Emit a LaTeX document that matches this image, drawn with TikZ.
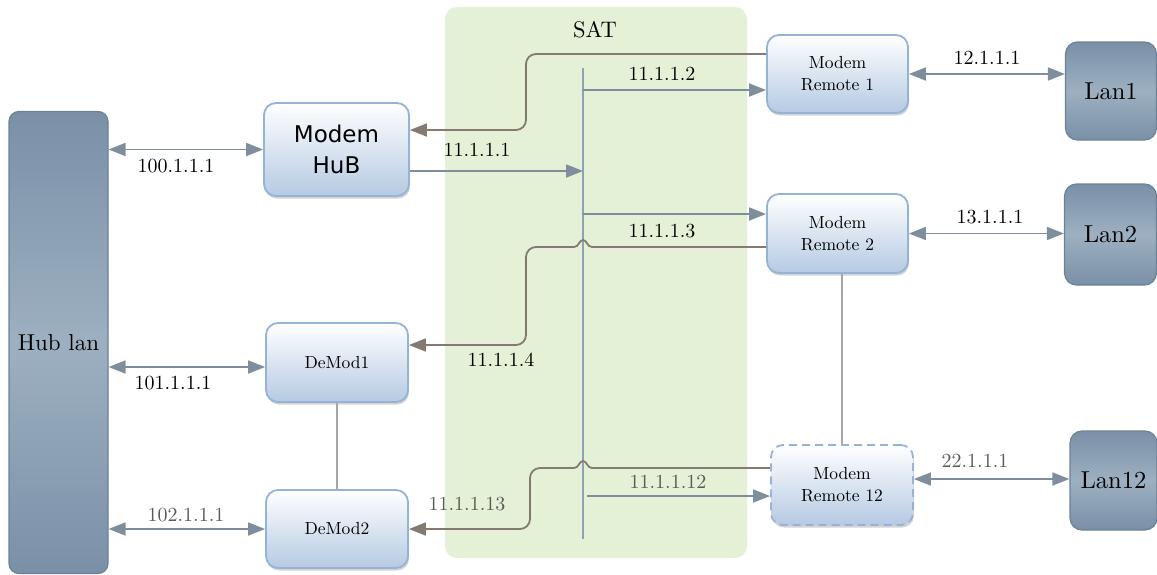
\documentclass[tikz,border=0pt]{standalone}
\usepackage{fontspec}
\setmainfont{lmroman10-regular.otf}
\newfontfamily\hubfont{DejaVu Sans}
\usepackage{tikz}
\usetikzlibrary{arrows.meta,positioning,shadows,calc}
\definecolor{satgreen}{HTML}{E5F1D7}
\definecolor{boxline}{HTML}{95B3D7}
\definecolor{boxblue}{HTML}{B5CAE3}
\definecolor{lanline}{HTML}{6D8195}
\definecolor{landark}{HTML}{7A90A7}
\definecolor{lanlight}{HTML}{9DB0C1}
\definecolor{arrowgrey}{HTML}{7F8E9D}
\definecolor{busgrey}{HTML}{8FA2B4}
\definecolor{retbrown}{HTML}{857A72}
\definecolor{tiegrey}{HTML}{A6A6A6}
\definecolor{ipgrey}{HTML}{5A5A5A}
\tikzset{
  modem/.style={rectangle,draw=boxline,line width=1.8pt,rounded corners=12pt,
    top color=white,bottom color=boxblue,align=center,inner sep=0pt,
    font=\fontsize{17.5}{22}\selectfont,
    drop shadow={shadow xshift=1pt,shadow yshift=-2.5pt,opacity=0.35,fill=black!50}},
  lan/.style={rectangle,draw=lanline,line width=1.2pt,rounded corners=12pt,
    top color=landark,bottom color=landark,middle color=lanlight,inner sep=0pt,
    font=\fontsize{24.5}{28}\selectfont},
  satbox/.style={rectangle,fill=satgreen,rounded corners=12pt,inner sep=0pt},
  ip/.style={font=\fontsize{20}{24}\selectfont,inner sep=0pt},
  ipgray/.style={ip,text=ipgrey},
  link/.style={{Triangle[length=17pt,width=13pt]}-{Triangle[length=17pt,width=13pt]},
    draw=arrowgrey,line width=1.8pt},
  fwd/.style={-{Triangle[length=17pt,width=13pt]},draw=arrowgrey,line width=1.8pt},
  ret/.style={-{Triangle[length=17pt,width=13pt]},draw=retbrown,line width=1.8pt},
  tie/.style={draw=tiegrey,line width=1.4pt},
}
\begin{document}
\begin{tikzpicture}[x=1pt,y=-1pt]
\useasboundingbox (0,0) rectangle (1157,574);
% satellite area
\node[satbox,minimum width=302pt,minimum height=551pt] (sat) at (596,282.5) {};
\node[font=\fontsize{22.5}{26}\selectfont] (satlbl) at (595,30) {SAT};
\coordinate (bustop) at (583,68);
\coordinate (busbot) at (583,539);
\draw[draw=busgrey,line width=1.6pt] (bustop) -- (busbot);

% hub side
\node[lan,minimum width=99pt,minimum height=462pt,rounded corners=10pt,
  font=\fontsize{23}{28}\selectfont] (hub) at (58.5,342.5) {Hub lan};
\node[modem,minimum width=145pt,minimum height=93pt,font=\hubfont\fontsize{23}{31}\selectfont] (mhub) at (336.5,149.5) {Modem\\HuB};
\node[modem,minimum width=142pt,minimum height=79pt] (dm1) at (337,362.5) {DeMod1};
\node[modem,minimum width=142pt,minimum height=78pt] (dm2) at (337,529) {DeMod2};

% remote side
\node[modem,minimum width=141pt,minimum height=78pt] (r1) at (837.5,74) {Modem\\Remote 1};
\node[modem,minimum width=141pt,minimum height=79pt] (r2) at (837.5,233.5) {Modem\\Remote 2};
\node[modem,minimum width=142pt,minimum height=80pt,dash pattern=on 8pt off 5pt] (r12) at (842,485) {Modem\\Remote 12};
\node[lan,minimum width=91pt,minimum height=98pt] (lan1) at (1111,91) {Lan1};
\node[lan,minimum width=92pt,minimum height=101pt] (lan2) at (1110.5,234.5) {Lan2};
\node[lan,minimum width=87pt,minimum height=99pt] (lan12) at (1113.5,480.5) {Lan12};

% ground links
\coordinate (dm1link) at ([yshift=-4.5pt]dm1.west);
\coordinate (r12link) at ([yshift=6pt]r12.east);
\draw[link] (hub.east |- mhub.west) -- (mhub.west);
\draw[link] (hub.east |- dm1link) -- (dm1link);
\draw[link] (hub.east |- dm2.west) -- (dm2.west);
\draw[link] (r1.east) -- (r1.east -| lan1.west);
\draw[link] (r2.east) -- (r2.east -| lan2.west);
\draw[link] (r12link) -- (r12link -| lan12.west);
\draw[tie] (dm1) -- (dm2);
\draw[tie] (r2.south -| r12.north) -- (r12.north);

% forward carriers
\coordinate (hubout) at ([yshift=-21.5pt]mhub.east);
\coordinate (r1feed) at ([yshift=-16pt]r1.west);
\coordinate (r2feed) at ([yshift=19.5pt]r2.west);
\coordinate (r12feed) at ([yshift=-11pt]r12.west);
\coordinate (busr12) at ([xshift=4pt]bustop);
\draw[fwd] (hubout) -- (hubout -| bustop);
\draw[fwd] (r1feed -| bustop) -- (r1feed);
\draw[fwd] (r2feed -| bustop) -- (r2feed);
\draw[fwd] (r12feed -| busr12) -- (r12feed);

% return carriers
\coordinate (jog1) at (526,0);
\coordinate (jog2) at (526,0);
\coordinate (jog3) at (530,0);
\coordinate (r1in) at ([yshift=20pt]r1.west);
\coordinate (r2in) at ([yshift=-13.5pt]r2.west);
\coordinate (r12in) at ([yshift=17pt]r12.west);
\coordinate (hubin) at ([yshift=19.5pt]mhub.east);
\coordinate (dm1in) at ([yshift=17.5pt]dm1.east);
\coordinate (dm2in) at (dm2.east);
\coordinate (hop2) at (r2in -| bustop);
\coordinate (hop3) at (r12in -| bustop);
\draw[ret,rounded corners=10pt] (r1in) -- (r1in -| jog1) -- (hubin -| jog1) -- (hubin);
\draw[ret] (r2in) -- ([xshift=9pt]hop2)
  .. controls +(-5,0) and +(4,0) .. ([yshift=7pt]hop2)
  .. controls +(-4,0) and +(5,0) .. ([xshift=-9pt]hop2)
  [rounded corners=10pt] -- (r2in -| jog2) -- (dm1in -| jog2) -- (dm1in);
\draw[ret] (r12in) -- ([xshift=9pt]hop3)
  .. controls +(-5,0) and +(4,0) .. ([yshift=7pt]hop3)
  .. controls +(-4,0) and +(5,0) .. ([xshift=-9pt]hop3)
  [rounded corners=10pt] -- (r12in -| jog3) -- (dm2in -| jog3) -- (dm2in);

% addresses
\node[ip] (ip100) at (176,166) {100.1.1.1};
\node[ip] (ip101) at (173,383) {101.1.1.1};
\node[ipgray] (ip102) at (186,515) {102.1.1.1};
\node[ip] (ip111) at (477,150) {11.1.1.1};
\node[ip] (ip112) at (662,74) {11.1.1.2};
\node[ip] (ip113) at (662,231) {11.1.1.3};
\node[ip] (ip114) at (501,360) {11.1.1.4};
\node[ipgray] (ip1112) at (668,482) {11.1.1.12};
\node[ipgray] (ip1113) at (467,504) {11.1.1.13};
\node[ip] (ip12) at (987,58) {12.1.1.1};
\node[ip] (ip13) at (990,217) {13.1.1.1};
\node[ipgray] (ip22) at (975,461) {22.1.1.1};
\end{tikzpicture}
\end{document}
